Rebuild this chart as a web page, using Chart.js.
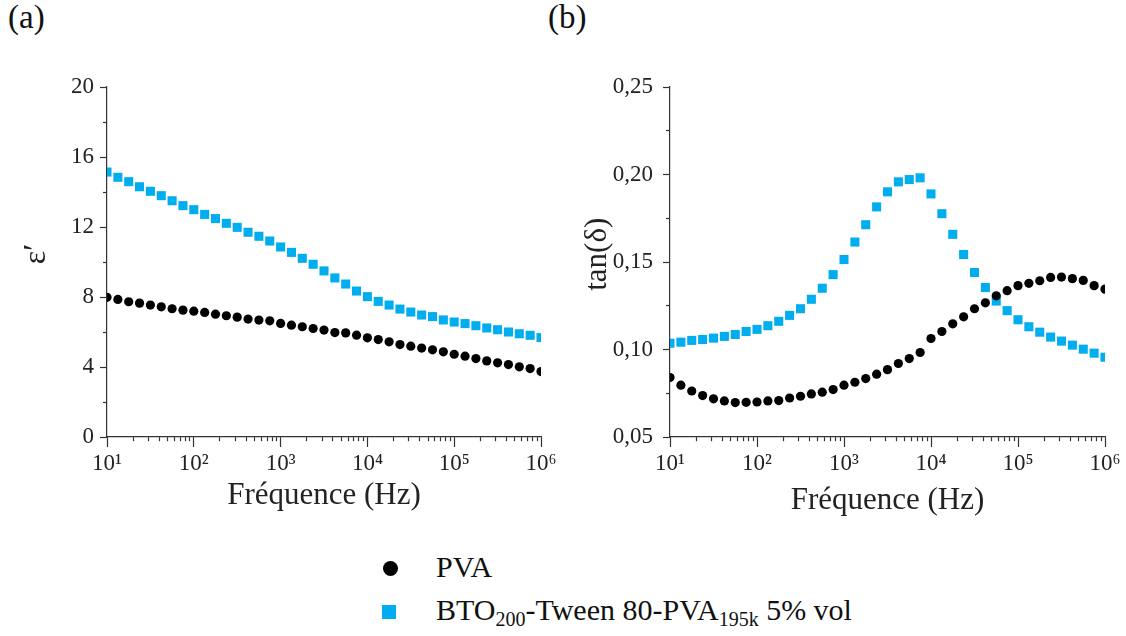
<!DOCTYPE html>
<html>
<head>
<meta charset="utf-8">
<script src="https://cdn.jsdelivr.net/npm/chart.js@4.4.1/dist/chart.umd.min.js"></script>
<style>
    body { margin: 0; background: #fff; width: 1126px; height: 636px; position: relative; overflow: hidden;
           font-family: "Liberation Serif", "DejaVu Serif", serif; color: #111; }
    canvas { position: absolute; top: 0; }
    #chartA { left: 0; }
    #chartB { left: 560px; }
    .tag { position: absolute; top: 1px; font-size: 33px; line-height: 33px; }
    .leg { position: absolute; left: 436px; font-size: 30px; line-height: 30px; white-space: nowrap; }
    .leg sub { font-size: 20px; vertical-align: -6px; line-height: 0; }
    .mk { position: absolute; }
</style>
</head>
<body>
<div class="tag" style="left:8px">(a)</div>
<div class="tag" style="left:548px">(b)</div>
<canvas id="chartA" width="560" height="530"></canvas>
<canvas id="chartB" width="566" height="530"></canvas>

<span class="mk" style="left:383px;top:561px;width:15px;height:15px;border-radius:50%;background:#000"></span>
<div class="leg" style="top:552px">PVA</div>
<span class="mk" style="left:382px;top:605px;width:14px;height:14px;background:#00adef"></span>
<div class="leg" style="top:595px">BTO<sub>200</sub>-Tween 80-PVA<sub>195k</sub> 5% vol</div>

<script>
(function() {
    'use strict';

    // Fréquence (Hz), 8 points par décade
    const freqHz = [
        10, 13.34, 17.78, 23.71, 31.62, 42.17, 56.23, 74.99,
        100, 133.4, 177.8, 237.1, 316.2, 421.7, 562.3, 749.9,
        1000, 1334, 1778, 2371, 3162, 4217, 5623, 7499,
        10000, 13335, 17783, 23714, 31623, 42170, 56234, 74989,
        100000, 133352, 177828, 237137, 316228, 421697, 562341, 749894,
        1000000
    ];

    // (a) permittivité ε'
    const epsPVA = [
        7.98, 7.86, 7.73, 7.65, 7.54, 7.44, 7.33, 7.25,
        7.19, 7.12, 7.02, 6.93, 6.85, 6.74, 6.68, 6.64,
        6.49, 6.39, 6.30, 6.20, 6.11, 5.97, 5.95, 5.82,
        5.67, 5.57, 5.44, 5.28, 5.19, 5.08, 4.98, 4.87,
        4.73, 4.62, 4.48, 4.35, 4.24, 4.14, 4.01, 3.91,
        3.74
    ];
    const epsBTO = [
        15.14, 14.84, 14.59, 14.30, 14.04, 13.79, 13.50, 13.22,
        12.99, 12.72, 12.48, 12.21, 11.98, 11.70, 11.47, 11.20,
        10.86, 10.55, 10.21, 9.87, 9.49, 9.09, 8.74, 8.34,
        8.02, 7.75, 7.54, 7.31, 7.14, 6.97, 6.88, 6.69,
        6.57, 6.48, 6.36, 6.23, 6.13, 6.00, 5.90, 5.81,
        5.68
    ];

    // (b) tan(δ)
    const tanPVA = [
        0.0840, 0.0796, 0.0763, 0.0737, 0.0718, 0.0706, 0.0697, 0.0698,
        0.0700, 0.0706, 0.0708, 0.0723, 0.0733, 0.0746, 0.0756, 0.0771,
        0.0796, 0.0813, 0.0834, 0.0859, 0.0885, 0.0920, 0.0948, 0.0983,
        0.1063, 0.1103, 0.1147, 0.1187, 0.1233, 0.1267, 0.1307, 0.1336,
        0.1365, 0.1378, 0.1393, 0.1412, 0.1414, 0.1405, 0.1395, 0.1365,
        0.1345
    ];
    const tanBTO = [
        0.1036, 0.1042, 0.1052, 0.1057, 0.1065, 0.1075, 0.1086, 0.1103,
        0.1115, 0.1136, 0.1161, 0.1195, 0.1233, 0.1287, 0.1350, 0.1428,
        0.1514, 0.1614, 0.1713, 0.1815, 0.1901, 0.1958, 0.1971, 0.1981,
        0.1889, 0.1776, 0.1658, 0.1543, 0.1440, 0.1354, 0.1277, 0.1222,
        0.1170, 0.1130, 0.1099, 0.1071, 0.1048, 0.1025, 0.1002, 0.0979,
        0.0956
    ];

    const seriesNames = ['PVA', 'BTO200-Tween 80-PVA195k 5% vol'];
    const seriesColors = ['#000000', '#00adef'];

    const FONT = "'Liberation Serif', 'DejaVu Serif', serif";
    const SUP = { 1: '¹', 2: '²', 3: '³', 4: '⁴', 5: '⁵', 6: '⁶' };

    Chart.defaults.font.family = FONT;

    function points(ys) {
        return freqHz.map(function(f, i) { return { x: f, y: ys[i] }; });
    }

    function logTicks(scale) {
        const t = [];
        for (let e = 1; e < 6; e++) {
            for (let s = 1; s < 10; s++) {
                t.push({ value: s * Math.pow(10, e), major: s === 1 });
            }
        }
        t.push({ value: 1e6, major: true });
        scale.ticks = t;
    }

    function buildChart(canvas, cfg) {
        return new Chart(canvas.getContext('2d'), {
            type: 'scatter',
            data: {
                datasets: [
                    {
                        label: seriesNames[0],
                        data: points(cfg.pva),
                        pointStyle: 'circle',
                        pointRadius: 4.6,
                        pointBorderWidth: 0,
                        backgroundColor: seriesColors[0],
                        clip: 0
                    },
                    {
                        label: seriesNames[1],
                        data: points(cfg.bto),
                        pointStyle: 'rect',
                        pointRadius: 6.4,
                        pointBorderWidth: 0,
                        backgroundColor: seriesColors[1],
                        clip: 0
                    }
                ]
            },
            options: {
                responsive: false,
                animation: false,
                events: [],
                layout: { padding: cfg.pad },
                plugins: { legend: { display: false }, tooltip: { enabled: false } },
                scales: {
                    x: {
                        type: 'logarithmic',
                        min: 10,
                        max: 1e6,
                        afterBuildTicks: logTicks,
                        afterFit: function(s) { s.height = cfg.xHeight; },
                        border: { color: '#333', width: 1.2 },
                        grid: {
                            drawOnChartArea: false,
                            tickLength: 10,
                            tickColor: '#333',
                            tickWidth: 1.2,
                            tickBorderDash: function(c) { return c.tick && c.tick.major ? [] : [4, 30]; }
                        },
                        ticks: {
                            autoSkip: false,
                            maxRotation: 0,
                            padding: 3,
                            color: '#222',
                            font: { family: FONT, size: 23 },
                            callback: function(v) {
                                const e = Math.round(Math.log10(v));
                                return Math.abs(Math.pow(10, e) - v) < 1e-6 ? '10' + SUP[e] : '';
                            }
                        },
                        title: {
                            display: true,
                            text: 'Fréquence (Hz)',
                            color: '#222',
                            padding: 0,
                            font: { family: FONT, size: 31 }
                        }
                    },
                    y: {
                        min: cfg.yMin,
                        max: cfg.yMax,
                        afterFit: function(s) { s.width = cfg.yWidth; },
                        border: { color: '#333', width: 1.2 },
                        grid: {
                            drawOnChartArea: false,
                            tickLength: 7,
                            tickColor: '#333',
                            tickWidth: 1.2,
                            tickBorderDash: function(c) { return c.tick && cfg.isMajor(c.tick.value) ? [] : [4, 3]; },
                            tickBorderDashOffset: function(c) { return c.tick && cfg.isMajor(c.tick.value) ? 0 : 4; }
                        },
                        ticks: {
                            stepSize: cfg.step,
                            padding: cfg.yPad,
                            color: '#222',
                            font: { family: FONT, size: 23 },
                            callback: function(v) { return cfg.isMajor(v) ? cfg.fmt(v) : ''; }
                        },
                        title: {
                            display: true,
                            text: cfg.yTitle,
                            color: '#222',
                            padding: 0,
                            font: { family: FONT, size: cfg.yTitleSize }
                        }
                    }
                }
            }
        });
    }

    function drawAll() {
        // espaces en tête : le titre remonte un peu au-dessus du centre de l'axe
        buildChart(document.getElementById('chartA'), {
            pva: epsPVA,
            bto: epsBTO,
            yMin: 0, yMax: 20, step: 2,
            isMajor: function(v) { return Math.round(v) % 4 === 0; },
            fmt: function(v) { return String(Math.round(v)); },
            yTitle: '  ε′',
            yTitleSize: 32,
            pad: { left: 17, top: 87, right: 19, bottom: 16 },
            yWidth: 90,
            yPad: 6,
            xHeight: 77
        });

        buildChart(document.getElementById('chartB'), {
            pva: tanPVA,
            bto: tanBTO,
            yMin: 0.05, yMax: 0.25, step: 0.025,
            isMajor: function(v) { return Math.round(v * 1000) % 50 === 0; },
            fmt: function(v) { return v.toFixed(2).replace('.', ','); },
            yTitle: '  tan(δ)',
            yTitleSize: 31,
            pad: { left: 19, top: 87, right: 21, bottom: 11 },
            yWidth: 91,
            yPad: 10,
            xHeight: 82
        });
    }

    Promise.all([
        document.fonts.load("23px 'Liberation Serif'"),
        document.fonts.load("23px 'DejaVu Serif'")
    ]).then(drawAll, drawAll);
})();
</script>
</body>
</html>
